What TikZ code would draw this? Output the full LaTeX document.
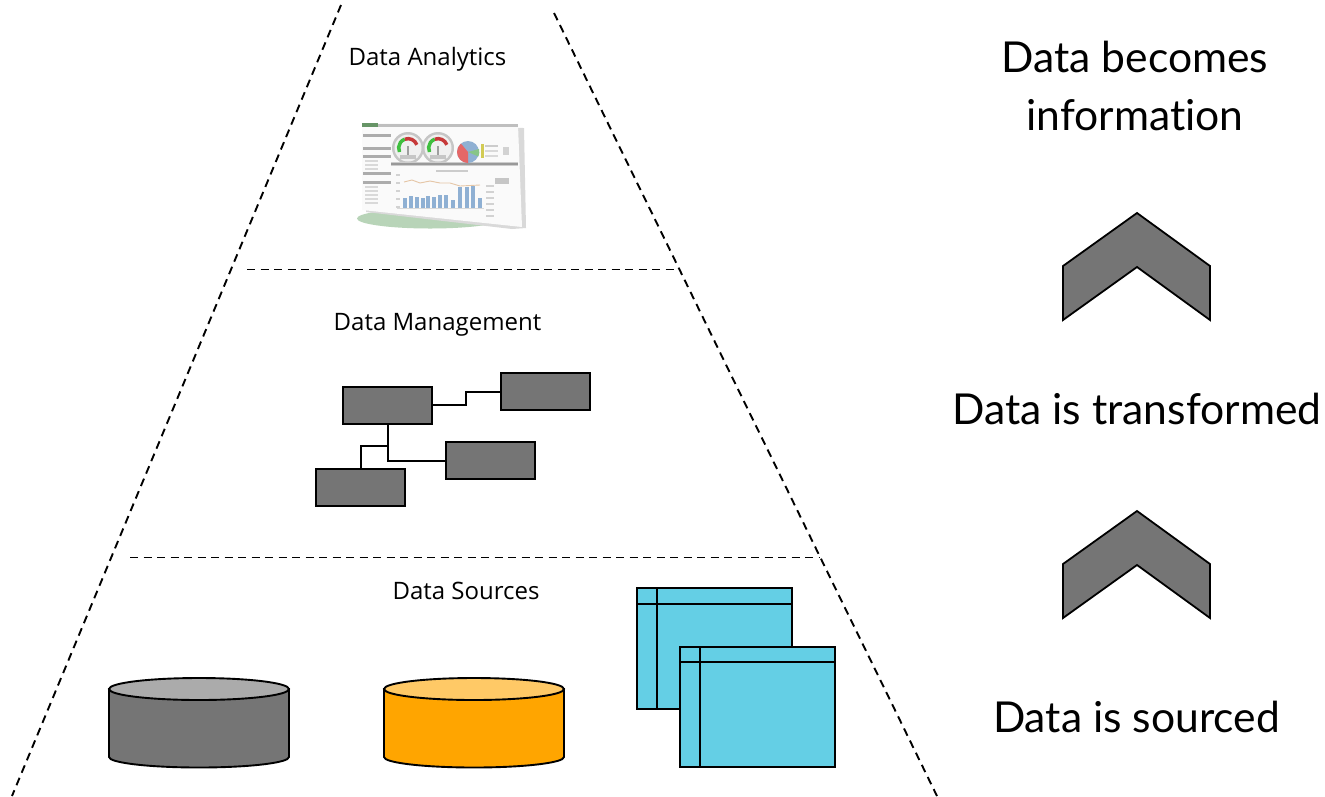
\documentclass[tikz,border=0pt]{standalone}
\usepackage{fontspec}
\setmainfont{Open Sans}
\newfontfamily\latofont[Ligatures=NoCommon]{Lato}
\definecolor{boxgray}{HTML}{757575}
\definecolor{topgray}{HTML}{ABABAB}
\definecolor{orangebody}{HTML}{FFA500}
\definecolor{orangetop}{HTML}{FFC966}
\definecolor{tableblue}{HTML}{64CFE5}
\definecolor{barblue}{HTML}{8FB0D3}
\tikzset{
  x=1pt,y=-1pt,
  guide/.style={draw=black,line width=1.9pt,dash pattern=on 8pt off 5.5pt},
  label/.style={font=\fontsize{24}{28}\selectfont,inner sep=0pt,text=black},
  headline/.style={font=\latofont\fontsize{42.6}{57.5}\selectfont,inner sep=0pt,align=center,text=black},
  mgmtbox/.style={draw=black,fill=boxgray,line width=2pt,minimum width=89pt,minimum height=37pt,inner sep=0pt},
  link/.style={draw=black,line width=2pt},
  chev/.style={draw=black,fill=boxgray,line width=1.8pt,line join=miter},
  shape line/.style={draw=black,line width=1.9pt},
  tableline/.style={draw=black,line width=2pt},
}
\newcommand{\cyl}[4]{% left x, right x, body, top
  \pgfmathsetmacro{\rx}{(#2-#1)/2}
  \path[shape line,fill=#3] (#1,689) -- (#1,757) arc[start angle=180,end angle=360,x radius=\rx pt,y radius=10.5pt] -- (#2,689) -- cycle;
  \path[shape line,fill=#4] ({(#1+#2)/2},689) ellipse[x radius=\rx pt,y radius=11pt];
}
\newcommand{\chevron}[1]{%
  \path[chev] (1137,#1) -- (1210,#1+53) -- (1210,#1+107) -- (1137,#1+54) -- (1063,#1+107) -- (1063,#1+53) -- cycle;
}
\newcommand{\datatable}[6]{% x0 x1 y0 y1 col row
  \path[tableline,fill=tableblue] (#1,#3) rectangle (#2,#4);
  \draw[tableline] (#5,#3) -- (#5,#4);
  \draw[tableline] (#1,#6) -- (#2,#6);
}
\newcommand{\gauge}[2]{%
  \fill[gray!45] (#1,#2) circle[radius=16pt];
  \fill[gray!12] (#1,#2) circle[radius=13.5pt];
  \draw[green!50!gray,line width=3.5pt] (#1-8.5,#2+4) arc[start angle=205,end angle=110,radius=9.4pt];
  \draw[red!55!gray,line width=3.5pt] (#1-3.2,#2-8.8) arc[start angle=110,end angle=20,radius=9.4pt];
  \draw[gray!75,line width=1.4pt] (#1,#2+7) -- (#1,#2-2);
  \fill[gray!45] (#1-8,#2+7) rectangle (#1+8,#2+11);
}
\begin{document}
\begin{tikzpicture}
\useasboundingbox (0,0) rectangle (1325,796);
\fill[white] (0,0) rectangle (1325,796);
% pyramid guides
\coordinate (apexL) at (341,5);
\coordinate (baseL) at (12,796);
\coordinate (apexR) at (554,13);
\coordinate (baseR) at (937,796);
\coordinate (m1L) at (247,269.5);
\coordinate (m1R) at (677,269.5);
\coordinate (m2L) at (130,557.5);
\coordinate (m2R) at (820,557.5);
\draw[guide] (apexL) -- (baseL);
\draw[guide] (apexR) -- (baseR);
\draw[guide] (m1L) -- (m1R);
\draw[guide] (m2L) -- (m2R);
% labels
\node[label] (lblA) at (427.5,59.5) {Data Analytics};
\node[label] (lblM) at (437.5,324.5) {Data Management};
\node[label] (lblS) at (466,591) {Data Sources};
% dashboard picture
\fill[green!40!black!28] (430,218.5) ellipse[x radius=73pt,y radius=10pt];
\fill[gray!30] (366,127) -- (524,128) -- (526,228) -- (512,229) -- (366,212) -- cycle;
\fill[gray!4] (362,123) -- (518,125) -- (522,227) -- (362,210) -- cycle;
\fill[green!30!black!60] (362,123) rectangle (378,127);
\fill[gray!50] (378,124) rectangle (518,127);
\foreach \yy/\ww in {134/28,147/28,155/28,172/28,181/28} \fill[gray!65] (363,\yy) rectangle (363+\ww,\yy+3);
\foreach \yy in {160,164,168,186,190,194,198,202} \fill[gray!30] (365,\yy) rectangle (378,\yy+2);
\gauge{408}{148}
\gauge{438}{148}
\fill[gray!40] (391,161.5) rectangle (518,166);
\fill[gray!80] (391,163) rectangle (518,165);
\fill[barblue] (468,152) circle[radius=11pt];
\fill[red!55!white!90!black] (468,152) -- (468,163) arc[start angle=270,end angle=130,radius=11pt] -- cycle;
\fill[green!35!gray!70] (468,152) -- (479,149) arc[start angle=15,end angle=-25,radius=11pt] -- cycle;
\fill[yellow!60!gray] (481,144) rectangle (484,158);
\fill[gray!40] (485,145) rectangle (498,147);
\fill[gray!30] (485,150) rectangle (498,152);
\fill[gray!30] (485,155) rectangle (498,157);
\fill[gray!35] (503,147) rectangle (509,155);
\fill[gray!40] (436,170) rectangle (468,172);
\foreach \xx/\hh in {405/10,411/12,417/11,423/10,428/12,434/11,440/13,446/13,453/8,460/21,467/21,473/22,480/10}{
  \fill[barblue] (\xx-2.2,208) rectangle (\xx+2.2,208-\hh);
}
\draw[orange!55!gray!45,line width=.9pt] (404,182) -- (412,180) -- (420,183) -- (430,181) -- (440,183) -- (450,183) -- (460,186) -- (480,185);
\draw[gray!30,line width=.8pt] (397,208) -- (484,208);
\foreach \yy in {174,182,190,198,206} \fill[gray!35] (396,\yy) rectangle (400,\yy+1.5);
\foreach \yy in {185,191,197,203,209,215} \fill[gray!35] (486,\yy) rectangle (494,\yy+1.5);
\fill[gray!45] (495,178) rectangle (509,184);
% management boxes
\node[mgmtbox] (mA) at (387.5,405) {};
\node[mgmtbox] (mB) at (545,391.5) {};
\node[mgmtbox] (mC) at (490.5,460.5) {};
\node[mgmtbox] (mD) at (360.5,487) {};
\coordinate (j1) at (466,405);
\coordinate (j2) at (466,392);
\coordinate (j3) at (387.5,446);
\coordinate (j4) at (360.5,446);
\coordinate (j5) at (387.5,460.5);
\draw[link] (mA.east |- j1) -- (j1) -- (j2) -- (mB.west |- j2);
\draw[link] (mA.south) -- (j5) -- (mC.west);
\draw[link] (j3) -- (j4) -- (mD.north);
% cylinders
\cyl{109}{289}{boxgray}{topgray}
\cyl{384}{564}{orangebody}{orangetop}
% tables
\datatable{637}{792}{588}{709}{657}{604}
\datatable{680}{835}{647}{767}{700}{662}
% right column
\node[headline] (hTop) at (1135,86) {Data becomes\\information};
\chevron{213}
\node[headline] (hMid) at (1137,409) {Data is transformed};
\chevron{511}
\node[headline] (hBot) at (1136.5,717) {Data is sourced};
\end{tikzpicture}
\end{document}
